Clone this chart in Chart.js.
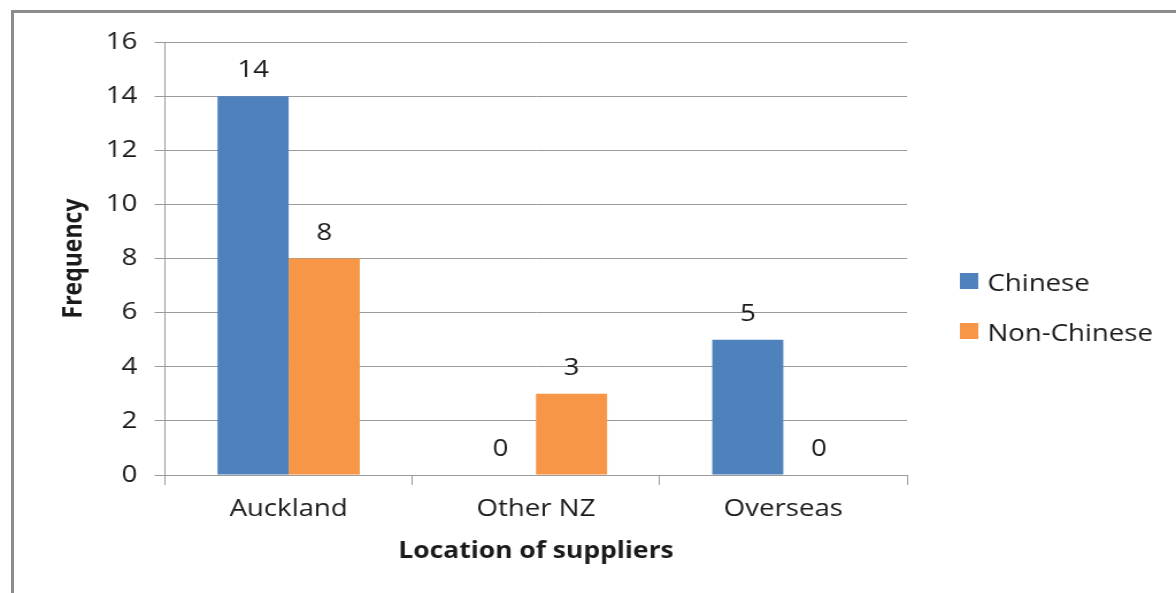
<!DOCTYPE html>
<html>
<head>
<meta charset="utf-8">
<script src="https://cdn.jsdelivr.net/npm/chart.js@4"></script>
<style>
  html, body { margin: 0; padding: 0; background: #fff; overflow: hidden; }
  #frame {
    position: absolute; left: 11px; top: 10px; width: 1200px; height: 620px;
    border-left: 3px solid #8c8c8c; border-top: 3px solid #8c8c8c;
  }
  #c { position: absolute; left: 0; top: 0; }
</style>
</head>
<body>
<div id="frame"></div>
<!-- canvas is drawn narrower and widened by the inline style -->
<canvas id="c" width="1023" height="593" style="width:1176px;height:593px"></canvas>
<script>
var locations = ["Auckland", "Other NZ", "Overseas"];
var chineseCounts = [14, 0, 5];
var nonChineseCounts = [8, 3, 0];
var seriesNames = ["Chinese", "Non-Chinese"];
var seriesColors = ["#4F81BD", "#F79646"];
var yMax = 16;
var yStep = 2;

var textColor = "#1a1a1a";
var lineColor = "#9a9a9a";

// value printed above each bar
var barValues = {
  id: 'barValues',
  afterDatasetsDraw: function(chart) {
    var ctx = chart.ctx;
    ctx.save();
    ctx.font = '24px "Open Sans"';
    ctx.fillStyle = textColor;
    ctx.textAlign = 'center';
    ctx.textBaseline = 'alphabetic';
    chart.data.datasets.forEach(function(ds, i) {
      chart.getDatasetMeta(i).data.forEach(function(bar, j) {
        ctx.fillText(ds.data[j], bar.x, bar.y - 19);
      });
    });
    ctx.restore();
  }
};

// legend on the right side
var sideLegend = {
  id: 'sideLegend',
  afterDraw: function(chart) {
    var ctx = chart.ctx;
    ctx.save();
    ctx.font = '24px "Open Sans"';
    ctx.textBaseline = 'alphabetic';
    chart.data.datasets.forEach(function(ds, i) {
      var top = 273 + i * 50;
      ctx.fillStyle = ds.backgroundColor;
      ctx.fillRect(835, top, 16, 16);
      ctx.fillStyle = textColor;
      ctx.fillText(ds.label, 859, top + 18);
    });
    ctx.restore();
  }
};

var titleFont = { family: 'Open Sans', size: 23, weight: 'bold' };

new Chart(document.getElementById('c'), {
  type: 'bar',
  data: {
    labels: locations,
    datasets: [
      { label: seriesNames[0], data: chineseCounts, backgroundColor: seriesColors[0] },
      { label: seriesNames[1], data: nonChineseCounts, backgroundColor: seriesColors[1] }
    ]
  },
  options: {
    responsive: false,
    animation: false,
    events: [],
    categoryPercentage: 0.575,
    barPercentage: 1,
    layout: { padding: { top: 42, right: 234, bottom: 0, left: 0 } },
    plugins: {
      legend: { display: false },
      tooltip: { enabled: false }
    },
    scales: {
      x: {
        offset: true,
        grid: { offset: true, drawOnChartArea: false, drawTicks: true, tickLength: 10, color: lineColor },
        border: { color: lineColor },
        ticks: { color: textColor, font: { family: 'Open Sans', size: 24 }, padding: 10, maxRotation: 0 },
        title: {
          display: true,
          text: 'Location of suppliers',
          color: textColor,
          font: titleFont,
          padding: { top: 0, bottom: 28 }
        },
        afterFit: function(scale) { scale.height = 118; }
      },
      y: {
        min: 0,
        max: yMax,
        grid: { color: lineColor, tickLength: 9 },
        border: { color: lineColor },
        ticks: { stepSize: yStep, color: textColor, font: { family: 'Open Sans', size: 24 }, padding: 15 },
        title: {
          display: true,
          text: 'Frequency',
          color: textColor,
          font: titleFont,
          padding: { top: 51, bottom: 0 }
        },
        afterFit: function(scale) { scale.width = 143.5; }
      }
    }
  },
  plugins: [barValues, sideLegend]
});
</script>
</body>
</html>
